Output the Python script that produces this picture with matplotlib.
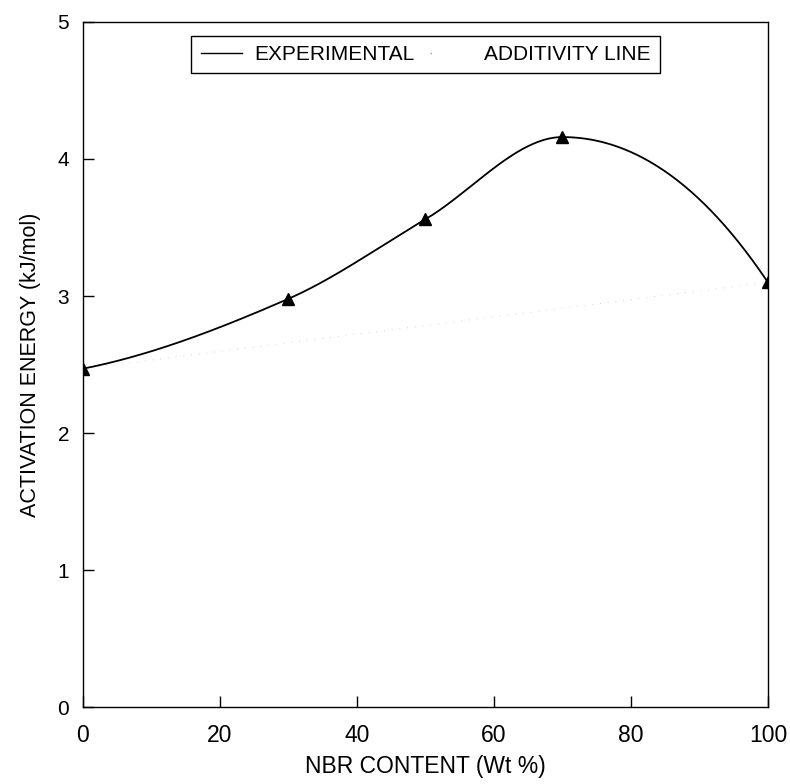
import numpy as np
import matplotlib
matplotlib.use("Agg")
import matplotlib.pyplot as plt
from matplotlib.lines import Line2D

# NBR content (wt %) and activation energy (kJ/mol)
nbr = [0, 30, 50, 70, 100]
energy = [2.47, 2.98, 3.56, 4.16, 3.10]
x_ticks = [0, 20, 40, 60, 80, 100]
y_ticks = [0, 1, 2, 3, 4, 5]


def pchip(x, y, xs):
    """Shape-preserving cubic through the measured points."""
    x = np.asarray(x, float)
    y = np.asarray(y, float)
    h = np.diff(x)
    d = np.diff(y) / h
    n = len(x)
    m = np.zeros(n)
    for k in range(1, n - 1):
        if d[k - 1] * d[k] > 0:
            w1 = 2 * h[k] + h[k - 1]
            w2 = h[k] + 2 * h[k - 1]
            m[k] = (w1 + w2) / (w1 / d[k - 1] + w2 / d[k])
    for i0, j in ((0, 0), (n - 1, -1)):
        if j == 0:
            hh0, hh1, dd0, dd1 = h[0], h[1], d[0], d[1]
        else:
            hh0, hh1, dd0, dd1 = h[-1], h[-2], d[-1], d[-2]
        s = ((2 * hh0 + hh1) * dd0 - hh0 * dd1) / (hh0 + hh1)
        if np.sign(s) != np.sign(dd0):
            s = 0
        elif np.sign(dd0) != np.sign(dd1) and abs(s) > abs(3 * dd0):
            s = 3 * dd0
        m[i0] = s
    out = np.empty_like(xs)
    idx = np.clip(np.searchsorted(x, xs) - 1, 0, n - 2)
    for i, (xv, k) in enumerate(zip(xs, idx)):
        t = (xv - x[k]) / h[k]
        h00 = 2 * t**3 - 3 * t**2 + 1
        h10 = t**3 - 2 * t**2 + t
        h01 = -2 * t**3 + 3 * t**2
        h11 = t**3 - t**2
        out[i] = h00 * y[k] + h10 * h[k] * m[k] + h01 * y[k + 1] + h11 * h[k] * m[k + 1]
    return out


plt.rcParams['font.family'] = ['Liberation Sans', 'DejaVu Sans']

fig = plt.figure(figsize=(7.9, 7.84), dpi=100)
ax = fig.add_axes([0.105, 0.098, 0.867, 0.874])

xs = np.linspace(0, 100, 400)
ax.plot(xs, pchip(nbr, energy, xs), color='black', lw=1.3, zorder=3)
ax.plot(nbr, energy, linestyle='none', marker='^', color='black',
        markersize=9, zorder=4)

# additivity line between the two pure components (faint dotted)
ax.plot([nbr[0], nbr[-1]], [energy[0], energy[-1]], color='#d4d4d4',
        lw=0.7, linestyle=(0, (1, 7)), zorder=2)

ax.set_xlim(0, 100)
ax.set_ylim(0, 5)
ax.set_xticks(x_ticks)
ax.set_yticks(y_ticks)
ax.tick_params(direction='in', length=8, width=1, top=False, right=False)
ax.tick_params(axis='x', pad=12, labelsize=16.5)
ax.tick_params(axis='y', pad=10, labelsize=15)
for sp in ax.spines.values():
    sp.set_linewidth(1.0)

ax.set_xlabel('NBR CONTENT (Wt %)', fontsize=16.5, labelpad=6)
ax.set_ylabel('ACTIVATION ENERGY (kJ/mol)', fontsize=15.5, labelpad=12)

handles = [Line2D([], [], color='black', lw=1.0),
           Line2D([], [], color='#9a9a9a', lw=1.0, linestyle=(0, (1, 30)))]
leg = ax.legend(handles, ['EXPERIMENTAL', 'ADDITIVITY LINE'], ncol=2,
                loc='upper left', bbox_to_anchor=(0.158, 0.98),
                borderaxespad=0, fontsize=15, frameon=True, fancybox=False,
                edgecolor='black', handlelength=2.0, handletextpad=0.6,
                borderpad=0.45, columnspacing=0.7)
leg.get_frame().set_linewidth(1.0)
leg.get_frame().set_alpha(None)

fig.savefig('out.png', dpi=100)
